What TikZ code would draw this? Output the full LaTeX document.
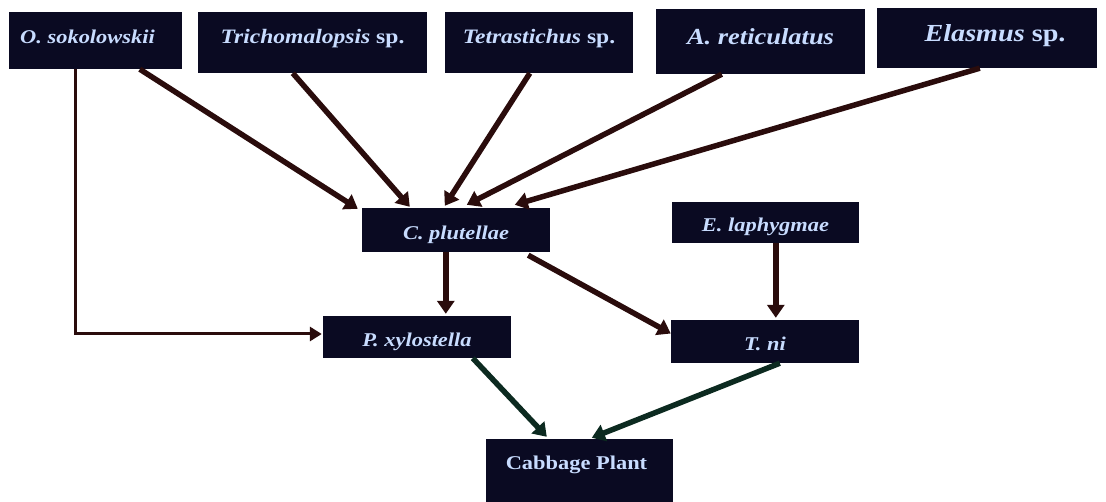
\documentclass[tikz,border=0pt]{standalone}
\usepackage{fontspec}
\setmainfont{Liberation Serif}[FakeStretch=1.15]
\usetikzlibrary{arrows.meta,calc}
\definecolor{boxfill}{HTML}{0A0A22}
\definecolor{boxtext}{HTML}{C8DCFF}
\definecolor{arrbrown}{HTML}{2A0C0C}
\definecolor{arrgreen}{HTML}{0C2A20}
\newcommand{\lowtext}[1]{\raisebox{-6pt}{#1}}
\tikzset{
  box/.style={draw=none, fill=boxfill, text=boxtext, inner sep=0pt,
    text height=0.66em, text depth=0pt},
  fs/.style={font=\fontsize{#1}{#1}\selectfont\bfseries\itshape},
  link/.style={draw=arrbrown, line width=5.5pt,
    -{Triangle[length=13pt,width=17pt]}},
  thinlink/.style={draw=arrbrown, line width=3pt,
    -{Triangle[length=12pt,width=14pt]}},
  plantlink/.style={draw=arrgreen, line width=5.5pt,
    -{Triangle[length=13pt,width=17pt]}}
}
\begin{document}
\begin{tikzpicture}[x=1pt,y=-1pt]
\useasboundingbox (0,0) rectangle (1106,502);
% top row
\node[box, fs=19.5, minimum width=173pt, minimum height=57pt] (O) at (95.5,40.5) {O. sokolowskii\hspace*{16pt}};
\node[box, fs=20.5, minimum width=229pt, minimum height=61pt] (Tri) at (312.5,42.5) {\raisebox{2pt}{Trichomalopsis \textup{sp.}}};
\node[box, fs=20.5, minimum width=188pt, minimum height=61pt] (Tet) at (539,42.5) {\raisebox{2pt}{Tetrastichus \textup{sp.}}};
\node[box, fs=23, minimum width=209pt, minimum height=65pt] (A) at (760.5,41.5) {A. reticulatus};
\node[box, fs=24.5, minimum width=220pt, minimum height=60pt] (Ela) at (987,38) {\hspace*{16pt}Elasmus \textup{sp.}};
% middle
\node[box, fs=19.5, minimum width=188pt, minimum height=44pt] (C) at (456,230) {\lowtext{C. plutellae}};
\node[box, fs=19.5, minimum width=187pt, minimum height=41pt] (E) at (765.5,222.5) {\lowtext{E. laphygmae}};
\node[box, fs=19.5, minimum width=188pt, minimum height=42pt] (P) at (417,337) {\lowtext{P. xylostella}};
\node[box, fs=19.5, minimum width=188pt, minimum height=43pt] (T) at (765,341.5) {\lowtext{T. ni}};
% plant
\node[box, font=\fontsize{19.5}{19.5}\selectfont\bfseries, minimum width=187pt,
  text height=30pt, text depth=33pt] (Cab) at (579.5,470.5) {Cabbage Plant\hspace*{6pt}};
% connectors
\draw[link] ($(O.south west)+(131,0)$) -- ($(C.north west)+(-4,1)$);
\draw[link] ($(Tri.south west)+(95,0)$) -- ($(C.north west)+(48,-1)$);
\draw[link] ($(Tet.south west)+(85,0)$) -- ($(C.north west)+(83,-2)$);
\draw[link] ($(A.south west)+(66,0)$) -- ($(C.north west)+(105,-3)$);
\draw[link] ($(Ela.south west)+(103,0)$) -- ($(C.north west)+(153,-3)$);
\draw[link] ($(C.south west)+(84,0)$) -- ($(P.north west)+(123,-2)$);
\draw[link] ($(C.south east)+(-22,3)$) -- ($(T.west)+(0,-8)$);
\draw[link] ($(E.south west)+(104,0)$) -- ($(T.north west)+(105,-2)$);
\draw[thinlink] ($(O.south west)+(67,0)$) |- ($(P.west)+(-1,-3)$);
\draw[plantlink] ($(P.south west)+(150,0)$) -- ($(Cab.north west)+(61,-2)$);
\draw[plantlink] ($(T.south west)+(109,0)$) -- ($(Cab.north west)+(106,-1)$);
\end{tikzpicture}
\end{document}
